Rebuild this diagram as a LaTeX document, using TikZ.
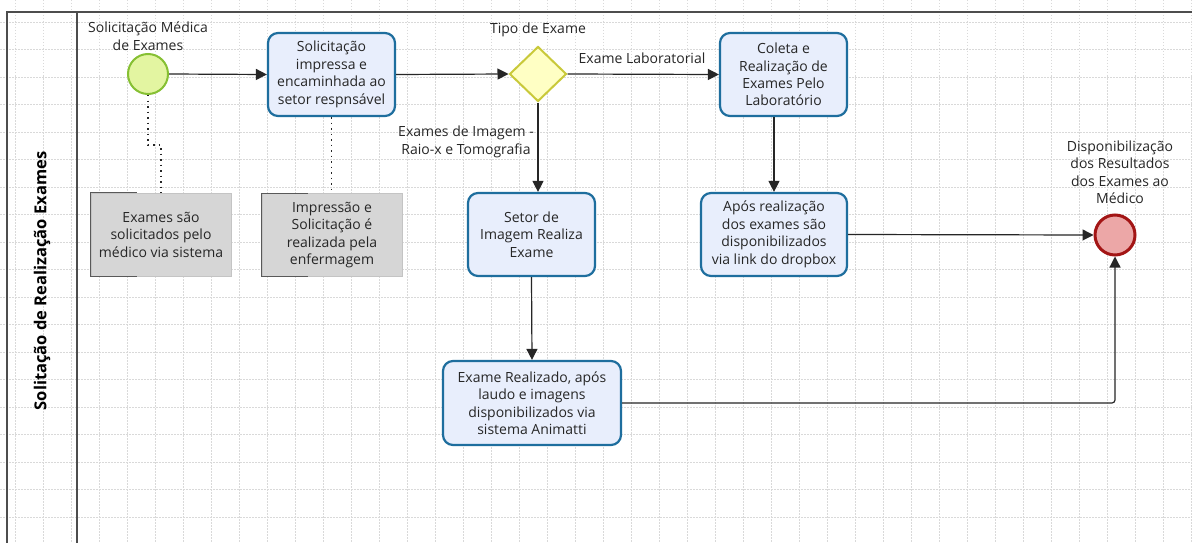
\documentclass[tikz,border=0pt]{standalone}
\usepackage{fontspec}
\setmainfont{Open Sans}
\usetikzlibrary{shapes.geometric,arrows.meta}
\definecolor{txt}{HTML}{262626}
\definecolor{taskfill}{HTML}{E8EEFC}
\definecolor{taskline}{HTML}{1E6E9E}
\definecolor{startfill}{HTML}{E3F5A1}
\definecolor{startline}{HTML}{86C033}
\definecolor{gwfill}{HTML}{FFFFC4}
\definecolor{gwline}{HTML}{C9C93A}
\definecolor{endfill}{HTML}{ECA7A7}
\definecolor{endline}{HTML}{A31515}
\definecolor{annfill}{HTML}{D6D6D6}
\definecolor{annline}{HTML}{C4C4C4}
\definecolor{gridc}{HTML}{D9D9D9}
\definecolor{poolc}{HTML}{4D4D4D}
\tikzset{
  lbl/.style={text=txt, align=center, font=\fontsize{14}{17.5}\selectfont, inner sep=0pt},
  task/.style={lbl, draw=taskline, fill=taskfill, line width=2.2pt, rounded corners=10pt, minimum width=127pt, minimum height=83pt},
  ann/.style={lbl, draw=annline, fill=annfill, line width=0.6pt, minimum width=140pt, minimum height=83pt},
  bracket/.style={draw=gray!70!black, line width=1pt},
  flow/.style={draw=black!85, line width=1.2pt, -{Triangle[length=11pt,width=11pt]}},
  assoc/.style={draw=black!85, line width=1.3pt, dash pattern=on 1.5pt off 4pt},
  gridline/.style={draw=gridc, line width=0.8pt, dash pattern=on 1.5pt off 1.5pt},
  pool/.style={draw=poolc, line width=1.5pt}
}
\begin{document}
\begin{tikzpicture}[x=1pt,y=-1pt]
\useasboundingbox (0,0) rectangle (1192,543);
\fill[white] (0,0) rectangle (1192,543);
% grid
\foreach \k in {0,...,42} { \draw[gridline] ({15+28*\k},0) -- ({15+28*\k},543); }
\foreach \k in {0,...,19} { \draw[gridline] (0,{22+27.5*\k}) -- (1192,{22+27.5*\k}); }
% pool
\draw[pool] (7,543) -- (7,12) -- (1192,12);
\draw[pool] (77,12) -- (77,543);
\node[lbl, rotate=90, font=\fontsize{16.5}{19}\selectfont\bfseries, text=black] (lane) at (42,281) {Solitação de Realização Exames};

% events and gateway
\node[circle, draw=startline, fill=startfill, line width=2pt, minimum size=40pt, inner sep=0pt] (start) at (148,74) {};
\node[lbl] (startlbl) at (148,36) {Solicitação Médica\\de Exames};

\node[task] (t1) at (331.5,74.5) {Solicitação\\impressa e\\encaminhada ao\\setor respnsável};

\node[diamond, draw=gwline, fill=gwfill, line width=2pt, minimum width=57pt, minimum height=55pt, inner sep=0pt] (gw) at (538,74) {};
\node[lbl] (gwlbl) at (538,30) {Tipo de Exame};

\node[task] (t2) at (783.5,74.5) {Coleta e\\Realização de\\Exames Pelo\\Laboratório};
\node[lbl] (lablbl) at (642,58) {Exame Laboratorial};

\node[task] (t3) at (531.5,234.5) {Setor de\\Imagem Realiza\\Exame};
\node[lbl] (imglbl) at (466,142) {Exames de Imagem -\\Raio-x e Tomografia};

\node[task, minimum width=146pt] (t4) at (774,234.5) {Após realização\\dos exames são\\disponibilizados\\via link do dropbox};

\node[task, minimum width=178pt, minimum height=84pt] (t5) at (532,403) {Exame Realizado, após\\laudo e imagens\\disponibilizados via\\sistema Animatti};

\node[circle, draw=endline, fill=endfill, line width=3pt, minimum size=40pt, inner sep=0pt] (end) at (1115,235) {};
\node[lbl] (endlbl) at (1120,172) {Disponibilização\\dos Resultados\\dos Exames ao\\Médico};

% annotations
\node[ann] (a1) at (161,234.5) {Exames são\\solicitados pelo\\médico via sistema};
\draw[bracket] ([xshift=46pt]a1.north west) -- (a1.north west) -- (a1.south west) -- ([xshift=46pt]a1.south west);
\node[ann] (a2) at (332,235) {Impressão e\\Solicitação é\\realizada pela\\enfermagem};
\draw[bracket] ([xshift=46pt]a2.north west) -- (a2.north west) -- (a2.south west) -- ([xshift=46pt]a2.south west);

% associations
\draw[assoc] (start.south) -- (start.south |- 0,145) -| (a1.north);
\draw[assoc] (t1.south) -- (t1.south |- a2.north);

% flows
\draw[flow] (start.east) -- (t1.west);
\draw[flow] (t1.east) -- (gw.west);
\draw[flow] (gw.east) -- (t2.west);
\draw[flow] (gw.south) -- (gw.south |- t3.north);
\draw[flow] (t4.north |- t2.south) -- (t4.north);
\draw[flow] (t3.south) -- (t5.north);
\draw[flow] (t4.east) -- (end.west);
\draw[flow, rounded corners=3pt] (t5.east) -- (end.south |- t5.east) -- (end.south);
\end{tikzpicture}
\end{document}
